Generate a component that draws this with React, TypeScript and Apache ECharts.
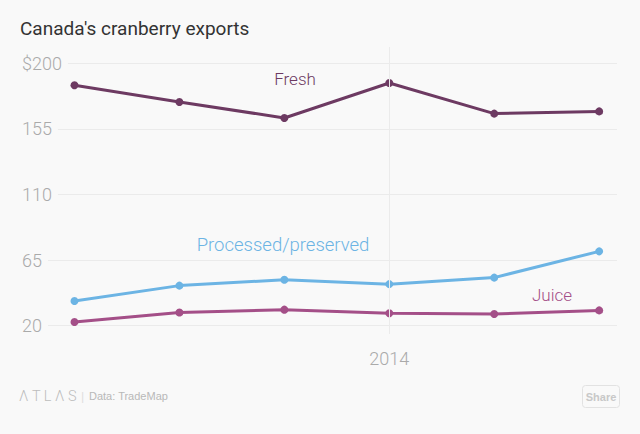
import React, { useEffect, useRef } from "react";
import * as echarts from "echarts";

const years = [2011, 2012, 2013, 2014, 2015, 2016];
const fresh = [185, 173.5, 162.5, 186.5, 165.5, 167];
const processed = [37, 47.5, 51.5, 48.5, 53, 71];
const juice = [22.5, 29, 31, 28.5, 28, 30.5];
const yTicks = [20, 65, 110, 155, 200];
const labeledYear = 2014;

const BG = "#f9f9f9";
const GRID = "#ebebeb";
const LABEL = "#aaaaaa";

export default function App() {
  const ref = useRef<HTMLDivElement>(null);
  useEffect(() => {
    document.body.style.margin = "0";
    document.body.style.background = BG;
    const chart = echarts.init(ref.current!, null, { renderer: "svg" });
    const base = yTicks[0];
    const yMax = yTicks[yTicks.length - 1] - base;
    const yInt = yTicks[1] - yTicks[0];
    const xMin = 2010.5;
    const xMax = 2016.17;
    const toData = (arr: number[]) => years.map((y, i) => [y, arr[i] - base]);
    const font = "Roboto, sans-serif";
    const seriesLine = (name: string, color: string, arr: number[]) => ({
      name,
      type: "line",
      xAxisIndex: 0,
      yAxisIndex: 0,
      data: toData(arr),
      symbol: "circle",
      symbolSize: 8,
      showSymbol: true,
      lineStyle: { color, width: 3 },
      itemStyle: { color },
      z: 3,
    });
    chart.setOption({
      animation: false,
      backgroundColor: BG,
      grid: [
        { left: 22, right: 23, top: 63.3, bottom: 434 - 325.7 },
        { left: 22, right: 23, top: 47, bottom: 434 - 334 },
      ],
      xAxis: [
        {
          type: "value",
          gridIndex: 0,
          min: xMin,
          max: xMax,
          interval: 0.5,
          axisLine: { show: false },
          axisTick: { show: false },
          splitLine: { show: false },
          axisLabel: {
            show: true,
            margin: 24,
            fontSize: 18,
            fontWeight: 300,
            fontFamily: font,
            color: LABEL,
            showMinLabel: false,
            showMaxLabel: false,
            formatter: (v: number) => (Math.abs(v - labeledYear) < 1e-6 ? String(labeledYear) : ""),
          },
        },
        {
          type: "value",
          gridIndex: 1,
          min: xMin,
          max: xMax,
          show: false,
        },
      ],
      yAxis: [
        {
          type: "value",
          gridIndex: 0,
          min: 0,
          max: yMax,
          interval: yInt,
          axisLine: { show: false },
          axisTick: { show: false },
          axisLabel: { show: false },
          splitLine: { show: true, lineStyle: { color: GRID, width: 1 } },
          z: 0,
        },
        {
          type: "value",
          gridIndex: 0,
          position: "left",
          min: 0,
          max: yMax,
          interval: yInt,
          axisLine: { show: false },
          axisTick: { show: false },
          splitLine: { show: false },
          z: 5,
          axisLabel: {
            show: true,
            inside: true,
            margin: 0,
            fontSize: 18,
            fontWeight: 300,
            fontFamily: font,
            color: LABEL,
            backgroundColor: BG,
            padding: [2, 6, 2, 0],
            formatter: (v: number) => {
              const val = v + base;
              return val === yTicks[yTicks.length - 1] ? "$" + val : String(val);
            },
          },
        },
        {
          type: "value",
          gridIndex: 1,
          min: 0,
          max: 1,
          show: false,
        },
      ],
      series: [
        {
          type: "line",
          xAxisIndex: 1,
          yAxisIndex: 2,
          data: [],
          silent: true,
          z: 1,
          markLine: {
            silent: true,
            symbol: "none",
            label: { show: false },
            lineStyle: { color: GRID, width: 1, type: "solid" },
            data: [{ xAxis: labeledYear }],
          },
        },
        seriesLine("Fresh", "#6d3a62", fresh),
        seriesLine("Processed/preserved", "#6cb4e4", processed),
        seriesLine("Juice", "#a44f88", juice),
      ],
      graphic: [
        {
          type: "text",
          left: 20,
          top: 19,
          style: { text: "Canada's cranberry exports", fontSize: 19, fontFamily: font, fill: "#333333" },
        },
        {
          type: "text",
          x: 295,
          y: 79,
          style: { text: "Fresh", fontSize: 17, fontWeight: 300, fontFamily: font, fill: "#6d3a62", align: "center", verticalAlign: "middle" },
        },
        {
          type: "text",
          x: 283,
          y: 245,
          style: { text: "Processed/preserved", fontSize: 18.5, fontWeight: 300, fontFamily: font, fill: "#6cb4e4", align: "center", verticalAlign: "middle" },
        },
        {
          type: "text",
          x: 552,
          y: 295,
          style: { text: "Juice", fontSize: 17, fontWeight: 300, fontFamily: font, fill: "#a44f88", align: "center", verticalAlign: "middle" },
        },
        {
          type: "text",
          x: 19,
          y: 396,
          style: { text: "Λ T L Λ S", fontSize: 14.5, fontWeight: 300, fontFamily: font, fill: "#bdbdbd", verticalAlign: "middle" },
        },
        {
          type: "text",
          x: 81,
          y: 396,
          style: { text: "|", fontSize: 13, fontFamily: font, fill: "#dddddd", verticalAlign: "middle" },
        },
        {
          type: "text",
          x: 89,
          y: 396,
          style: { text: "Data: TradeMap", fontSize: 11, fontFamily: "'Liberation Sans', Arial, sans-serif", fill: "#b8b8b8", verticalAlign: "middle" },
        },
        {
          type: "rect",
          shape: { x: 582.5, y: 385.5, width: 37, height: 22, r: 3 },
          style: { fill: BG, stroke: "#e2e2e2", lineWidth: 1 },
        },
        {
          type: "text",
          x: 601,
          y: 396.5,
          style: { text: "Share", fontSize: 11, fontWeight: "bold", fontFamily: "'Liberation Sans', Arial, sans-serif", fill: "#c8c8c8", align: "center", verticalAlign: "middle" },
        },
      ],
    });
    return () => chart.dispose();
  }, []);
  return <div ref={ref} style={{ width: 640, height: 434 }} />;
}
